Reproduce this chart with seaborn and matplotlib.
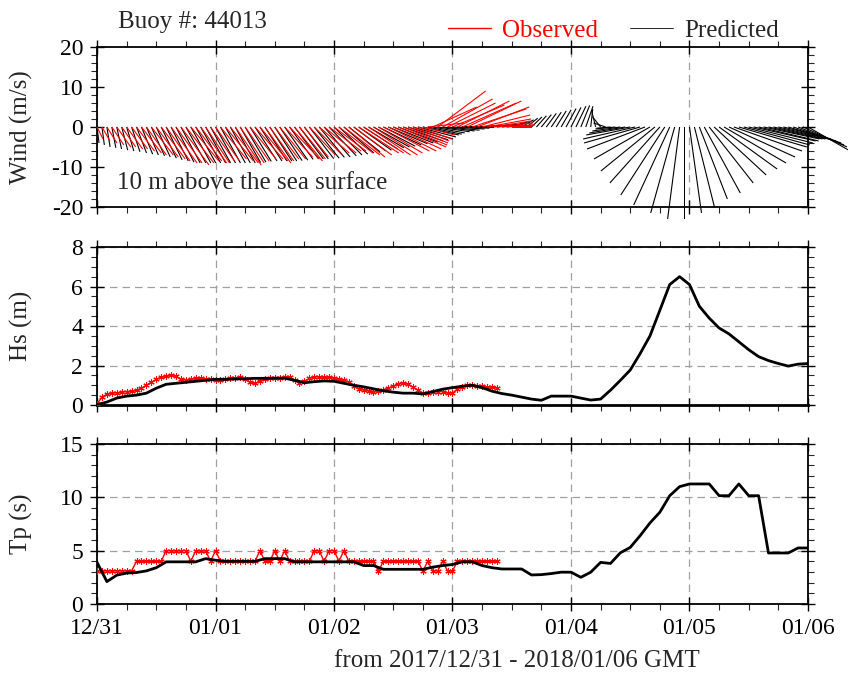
import matplotlib
matplotlib.use("Agg")
import matplotlib.pyplot as plt
from matplotlib.lines import Line2D
import numpy as np
import seaborn as sns

sns.set_theme(style="ticks")
plt.rcParams["font.family"] = ["Liberation Serif", "DejaVu Serif"]
plt.rcParams["axes.unicode_minus"] = False

# --- data (hours since 2017/12/31 00 GMT) ---
day_labels = ["12/31", "01/01", "01/02", "01/03", "01/04", "01/05", "01/06"]

# predicted wind, hourly (m/s)
pred_u = [0.5, 0.6, 0.8, 1.0, 1.2, 1.5, 1.8, 2.1, 2.5, 2.8, 3.0, 3.3, 3.5, 3.8, 4.0, 4.3, 4.5, 4.8, 5.0, 5.0, 5.0, 5.0, 5.0, 5.0,
          5.0, 5.0, 5.0, 5.0, 5.0, 5.1, 5.2, 5.3, 5.5, 5.5, 5.5, 5.5, 5.5, 5.6, 5.8, 5.9, 6.0, 6.0, 6.0, 6.1, 6.2, 6.3, 6.5, 6.8,
          7.0, 7.2, 7.5, 7.8, 8.0, 8.2, 8.5, 8.8, 9.0, 9.2, 9.5, 9.8, 10.0, 10.0, 10.0, 10.0, 10.0, 9.5, 9.0, 8.5, 8.0, 8.0, 8.0, 8.0,
          8.0, 8.0, 8.0, 8.0, 8.0, 7.5, 7.0, 6.5, 6.0, 5.5, 5.0, 4.5, 3.5, 3.2, 3.0, 2.8, 2.6, 2.5, 2.5, 2.5, 2.5, 2.5, 2.5, 2.5,
          2.5, 2.5, 2.2, 1.8, 0.5, -1.0, -2.0, -3.0, -3.5, -5.0, -7.0, -9.0, -11.0, -13.0, -14.0, -14.5, -14.0, -13.5, -12.5, -11.0, -9.0, -6.0, -3.0, 0.0,
          3.0, 5.0, 7.0, 9.0, 11.0, 13.0, 14.5, 15.5, 16.5, 17.0, 17.0, 16.5, 16.0, 15.5, 15.0, 14.0, 13.5, 13.0, 12.5, 12.0, 12.0, 12.0, 11.5, 11.0, 10.0]
pred_v = [-4.0, -4.5, -5.0, -5.2, -5.5, -5.8, -6.0, -6.2, -6.5, -6.8, -7.0, -7.2, -7.5, -7.8, -8.2, -8.5, -8.8, -9.0, -9.0, -9.0, -9.0, -9.0, -9.0, -9.0,
          -9.0, -9.0, -9.0, -9.0, -9.0, -8.9, -8.8, -8.6, -8.5, -8.5, -8.5, -8.5, -8.5, -8.4, -8.3, -8.1, -8.0, -8.0, -8.0, -7.9, -7.8, -7.6, -7.5, -7.2,
          -7.0, -6.8, -6.5, -6.2, -6.0, -5.8, -5.5, -5.2, -5.0, -4.8, -4.5, -4.2, -4.0, -3.8, -3.5, -3.2, -3.0, -2.5, -2.0, -1.8, -1.5, -1.2, -1.0, -0.8,
          -0.5, -0.3, 0.0, 0.2, 0.3, 0.4, 0.5, 0.5, 0.5, 0.6, 0.8, 0.9, 1.2, 1.5, 1.8, 2.2, 2.5, 2.8, 3.1, 3.4, 3.7, 4.0, 4.3, 4.6,
          4.9, 5.2, 5.4, 5.2, 4.5, 4.0, 2.5, 1.0, -0.3, -0.5, -1.0, -1.5, -2.0, -3.0, -4.0, -5.5, -8.0, -11.0, -14.0, -17.0, -19.5, -21.5, -23.0, -23.0,
          -21.5, -20.0, -18.0, -16.5, -14.0, -12.0, -10.5, -9.0, -7.5, -6.0, -5.0, -4.5, -4.0, -3.5, -3.5, -3.0, -3.0, -3.0, -3.0, -3.0, -3.5, -4.0, -4.5, -5.0, -5.7]

# observed wind, hourly (m/s)
obs_u = [1.5, 2, 2.5, 3, 3.5, 3.5, 4, 4, 4.5, 5, 5, 5.5, 5.5, 6, 6, 6.5, 6.5, 7, 7, 7, 6.5, 6.5, 6, 6,
         6, 6.5, 7, 7, 6.5, 6, 6, 6.5, 7, 7, 6.5, 6, 6, 6.5, 7, 7.5, 7, 6.5, 6, 6.5, 7, 7.5, 8, 8,
         8, 8.5, 9, 9, 9.5, 10, 10, 10.5, 11, 11, 11.5, 12, 12, 12, 11, 10, 9, 8.5, 8, 9, 11, 12, 12.5, 12,
         13, 13, 13.5, 13.5, 13.5, 13, 12, 11, 10, 9, 8, 7, 5]
obs_v = [-3, -3.5, -4, -4.5, -5, -5, -5.5, -5.5, -6, -6.5, -7, -7, -7.5, -8, -8.5, -9, -9, -9.5, -9, -8.5, -8.5, -9, -9, -8.5,
         -8.5, -8, -8.5, -9, -9.5, -9, -8.5, -8, -8, -8.5, -9, -8.5, -8, -8, -7.5, -8, -8.5, -8, -7.5, -7, -7, -6.5, -6.5, -6,
         -6, -6.5, -7, -7.5, -7, -6.5, -6.5, -7, -7, -6.5, -6, -6, -5.5, -5, -4.5, -4, -3.5, -3, -2, 1, 5, 9, 7, 6,
         5.5, 6.5, 6, 6.5, 4.5, 5, 3, 2, 1.5, 1, 0.5, 0.5, 0]

# predicted Hs (m), 2-hourly
pred_hs = [0.02, 0.15, 0.35, 0.45, 0.5, 0.6, 0.85, 1.05, 1.1, 1.15, 1.2, 1.25,
           1.3, 1.3, 1.32, 1.33, 1.35, 1.35, 1.36, 1.36, 1.25, 1.13, 1.18, 1.22,
           1.2, 1.1, 1.0, 0.92, 0.82, 0.72, 0.65, 0.6, 0.6, 0.56, 0.68, 0.8,
           0.88, 0.95, 1.0, 0.88, 0.7, 0.58, 0.5, 0.4, 0.3, 0.24, 0.45, 0.45,
           0.45, 0.35, 0.25, 0.3, 0.75, 1.25, 1.77, 2.6, 3.5, 4.8, 6.1, 6.5,
           6.1, 5.0, 4.4, 3.9, 3.6, 3.2, 2.8, 2.45, 2.25, 2.1, 1.97, 2.07, 2.1]

# observed Hs (m), hourly
obs_hs = [0.05, 0.4, 0.55, 0.6, 0.62, 0.65, 0.68, 0.7, 0.75, 0.85, 1.0, 1.15,
          1.3, 1.4, 1.45, 1.5, 1.45, 1.3, 1.28, 1.3, 1.35, 1.35, 1.32, 1.3,
          1.28, 1.27, 1.3, 1.35, 1.38, 1.4, 1.3, 1.15, 1.1, 1.2, 1.3, 1.35,
          1.35, 1.38, 1.4, 1.4, 1.25, 1.12, 1.2, 1.35, 1.43, 1.42, 1.4, 1.4,
          1.35, 1.3, 1.25, 1.18, 0.95, 0.82, 0.78, 0.72, 0.68, 0.7, 0.78, 0.85,
          0.95, 1.08, 1.13, 1.05, 0.9, 0.75, 0.6, 0.62, 0.65, 0.68, 0.68, 0.62,
          0.6, 0.8, 0.92, 1.0, 1.0, 0.97, 0.95, 0.92, 0.9, 0.88]

# predicted Tp (s), 2-hourly
pred_tp = [3.9, 2.1, 2.7, 2.9, 2.95, 3.1, 3.4, 3.95, 3.95, 3.95, 3.95, 4.25,
           4.1, 4.0, 4.0, 4.0, 4.0, 4.25, 4.25, 4.25, 3.95, 3.95, 3.95, 3.95,
           3.95, 3.95, 3.95, 3.6, 3.6, 3.25, 3.25, 3.25, 3.25, 3.25, 3.45, 3.6,
           3.7, 3.95, 3.95, 3.6, 3.4, 3.28, 3.28, 3.28, 2.72, 2.75, 2.85, 2.98,
           2.98, 2.5, 2.98, 3.9, 3.8, 4.8, 5.3, 6.4, 7.6, 8.6, 10.15, 11.0,
           11.25, 11.25, 11.25, 10.15, 10.15, 11.25, 10.15, 10.15, 4.78, 4.78, 4.78, 5.25, 5.25]

# observed Tp (s), hourly
obs_tp = [3.1, 3.1, 3.1, 3.1, 3.1, 3.1, 3.1, 3.1, 4, 4, 4, 4, 4, 4,
          5, 5, 5, 5, 5, 4, 5, 5, 5, 4, 5, 4,
          4, 4, 4, 4, 4, 4, 4, 5, 4, 4, 5, 4, 5, 4,
          4, 4, 4, 4, 5, 5, 4, 5, 5, 4, 5, 4,
          4, 4, 4, 4, 4, 3.1, 4, 4, 4, 4, 4, 4, 4, 4,
          3.1, 4, 3.1, 3.1, 4, 3.1, 3.1, 4, 4, 4, 4, 4, 4, 4, 4, 4]

t_pred_w = np.arange(len(pred_u))
t_obs_w = np.arange(len(obs_u))
t_pred = np.arange(len(pred_hs)) * 2
t_obs = np.arange(len(obs_hs))

RED = "#ff0000"
GRID = dict(color="#a0a0a0", linestyle=(0, (6, 4)), linewidth=0.9)

fig = plt.figure(figsize=(8.48, 6.74), dpi=100)
ax_w = fig.add_axes([0.1144, 0.6929, 0.8384, 0.2374])
ax_h = fig.add_axes([0.1144, 0.3991, 0.8384, 0.2344])
ax_t = fig.add_axes([0.1144, 0.1039, 0.8384, 0.2374])


def sticks(ax, t, u, v, color):
    q = ax.quiver(t, np.zeros(len(t)), u, v, angles="uv", scale_units="y", scale=1,
                  units="dots", width=1.1, headwidth=0, headlength=0, headaxislength=0,
                  minlength=0, color=color, pivot="tail", zorder=3)
    q.set_clip_on(False)


# wind sticks
sticks(ax_w, t_pred_w, pred_u, pred_v, "black")
sticks(ax_w, t_obs_w, obs_u, obs_v, RED)
ax_w.set_ylim(-20, 20)
ax_w.set_yticks([-20, -10, 0, 10, 20])
ax_w.set_yticks(np.arange(-20, 21, 2), minor=True)
ax_w.grid(axis="x", **GRID)
ax_w.set_ylabel("Wind (m/s)")
ax_w.text(0.028, 0.15, "10 m above the sea surface", transform=ax_w.transAxes,
          fontsize=18, va="center", ha="left")

# Hs
sns.lineplot(x=t_obs, y=obs_hs, ax=ax_h, color=RED, lw=1.0, marker=(6, 2, 0),
             markersize=4.5, markeredgewidth=0.8, markeredgecolor=RED, zorder=3)
sns.lineplot(x=t_pred, y=pred_hs, ax=ax_h, color="black", lw=2.0, zorder=4)
ax_h.set_ylim(0, 8)
ax_h.set_yticks([0, 2, 4, 6, 8])
ax_h.set_yticks(np.arange(0, 8.01, 0.5), minor=True)
ax_h.grid(axis="both", **GRID)
ax_h.set_ylabel("Hs (m)")

# Tp
sns.lineplot(x=t_obs, y=obs_tp, ax=ax_t, color=RED, lw=1.0, marker=(6, 2, 0),
             markersize=4.5, markeredgewidth=0.8, markeredgecolor=RED, zorder=3)
sns.lineplot(x=t_pred, y=pred_tp, ax=ax_t, color="black", lw=2.0, zorder=4)
ax_t.set_ylim(0, 15)
ax_t.set_yticks([0, 5, 10, 15])
ax_t.set_yticks(np.arange(0, 15.1, 1), minor=True)
ax_t.grid(axis="both", **GRID)
ax_t.set_ylabel("Tp (s)")

for ax in (ax_w, ax_h, ax_t):
    ax.set_xlim(0, 144)
    ax.set_xticks(np.arange(0, 145, 24))
    ax.set_xticks(np.arange(0, 145, 6), minor=True)
    ax.set_xticklabels(day_labels)
    ax.tick_params(which="major", direction="inout", length=10, width=1.0,
                   top=True, right=True, labelsize=17, colors="black", pad=5)
    ax.tick_params(which="minor", direction="out", length=4, width=0.8,
                   top=True, right=True)
    ax.yaxis.label.set_fontsize(18)
    ax.yaxis.set_label_coords(-0.09, 0.5)
    for s in ax.spines.values():
        s.set_visible(True)
        s.set_color("black")
        s.set_linewidth(1.3)
    ax.set_xlabel("")

ax_w.tick_params(labelbottom=False)
ax_h.tick_params(labelbottom=False)
ax_h.spines["bottom"].set_linewidth(2.0)

fig.text(0.139, 0.968, "Buoy #: 44013", fontsize=18, ha="left", va="center")
fig.text(0.609, 0.019, "from 2017/12/31 - 2018/01/06 GMT", fontsize=18,
         ha="center", va="center")

handles = [Line2D([], [], color=RED, lw=1.0), Line2D([], [], color="black", lw=0.6)]
leg = fig.legend(handles, ["Observed", "Predicted"], loc="center",
                 bbox_to_anchor=(0.7235, 0.955), ncol=2, frameon=False,
                 fontsize=18, handlelength=1.7, handletextpad=0.45, columnspacing=1.3)
leg.get_texts()[0].set_color(RED)

fig.savefig("out.png", dpi=100)
